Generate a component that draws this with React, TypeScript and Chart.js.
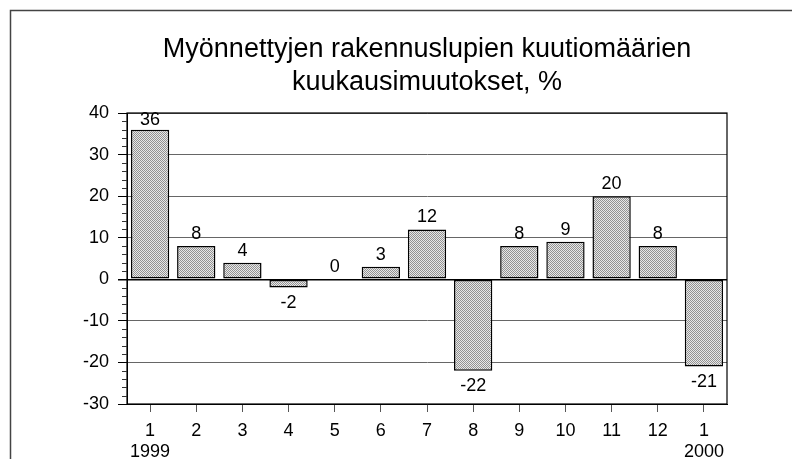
import React, { useEffect, useRef } from "react";
import { Chart, registerables } from "chart.js";

Chart.register(...registerables);

const categories: (string | string[])[] = [["1", "1999"], "2", "3", "4", "5", "6", "7", "8", "9", "10", "11", "12", ["1", "2000"]];
const values: number[] = [36, 8, 4, -2, 0, 3, 12, -22, 8, 9, 20, 8, -21];
const titleLines: string[] = ["Myönnettyjen rakennuslupien kuutiomäärien", "kuukausimuutokset, %"];
const yMin = -30;
const yMax = 40;
const yStep = 10;
const yMinorStep = 2;

const FONT = "'Liberation Sans', Arial, Helvetica, sans-serif";

function makePattern(): CanvasPattern | string {
  const c = document.createElement("canvas");
  c.width = 2;
  c.height = 2;
  const g = c.getContext("2d");
  if (!g) return "#c8c8c8";
  g.fillStyle = "#e8e8e8";
  g.fillRect(0, 0, 2, 2);
  g.fillStyle = "#929292";
  g.fillRect(0, 0, 1, 1);
  g.fillRect(1, 1, 1, 1);
  const p = g.createPattern(c, "repeat");
  return p || "#c8c8c8";
}

const framePlugin = {
  id: "frame",
  beforeDraw(chart: any) {
    const ctx = chart.ctx;
    const a = chart.chartArea;
    ctx.save();
    ctx.fillStyle = "#ffffff";
    ctx.fillRect(0, 0, chart.width, chart.height);
    ctx.strokeStyle = "#444444";
    ctx.lineWidth = 1.5;
    ctx.beginPath();
    ctx.moveTo(10.5, chart.height + 2);
    ctx.lineTo(10.5, 10.5);
    ctx.lineTo(chart.width + 2, 10.5);
    ctx.stroke();
    // title
    ctx.fillStyle = "#000000";
    ctx.font = `27px ${FONT}`;
    ctx.textAlign = "center";
    ctx.textBaseline = "alphabetic";
    const cx = (a.left + a.right) / 2;
    titleLines.forEach((t, i) => ctx.fillText(t, cx, 57 + i * 33));
    ctx.restore();
  },
  afterDraw(chart: any) {
    const ctx = chart.ctx;
    const a = chart.chartArea;
    const y = chart.scales.y;
    ctx.save();
    ctx.strokeStyle = "#000000";
    ctx.lineWidth = 1.2;
    ctx.strokeRect(a.left, a.top, a.right - a.left, a.bottom - a.top);
    // minor ticks
    ctx.lineWidth = 1;
    ctx.strokeStyle = "#333333";
    ctx.beginPath();
    for (let v = yMin; v <= yMax; v += yMinorStep) {
      if (v % yStep === 0) continue;
      const py = Math.round(y.getPixelForValue(v)) + 0.5;
      ctx.moveTo(a.left - 5, py);
      ctx.lineTo(a.left, py);
    }
    ctx.stroke();
    ctx.restore();
  },
};

const labelPlugin = {
  id: "valueLabels",
  afterDatasetsDraw(chart: any) {
    const ctx = chart.ctx;
    const meta = chart.getDatasetMeta(0);
    const a = chart.chartArea;
    ctx.save();
    ctx.font = `18px ${FONT}`;
    ctx.fillStyle = "#000000";
    ctx.textAlign = "center";
    meta.data.forEach((bar: any, i: number) => {
      const v = values[i];
      const txt = String(v);
      if (v >= 0) {
        ctx.textBaseline = "bottom";
        let yy = bar.y - 3;
        if (yy - 16 < a.top) yy = a.top + 16;
        ctx.fillText(txt, bar.x, yy);
      } else {
        ctx.textBaseline = "top";
        ctx.fillText(txt, bar.x, bar.y + 6);
      }
    });
    ctx.restore();
  },
};

export default function App() {
  const ref = useRef<HTMLCanvasElement | null>(null);
  useEffect(() => {
    if (!ref.current) return;
    const pattern = makePattern();
    const chart = new Chart(ref.current, {
      type: "bar",
      data: {
        labels: categories,
        datasets: [
          {
            data: values,
            backgroundColor: pattern as any,
            borderColor: "#000000",
            borderWidth: 1.5,
            borderSkipped: false,
            barPercentage: 0.83,
            categoryPercentage: 1,
          },
        ],
      },
      options: {
        animation: false,
        responsive: false,
        maintainAspectRatio: false,
        devicePixelRatio: 1,
        layout: { padding: { left: 0, right: 65, top: 113, bottom: 0 } },
        plugins: {
          legend: { display: false },
          tooltip: { enabled: false },
          title: { display: false },
        },
        scales: {
          x: {
            offset: true,
            grid: {
              offset: false,
              drawOnChartArea: false,
              drawTicks: true,
              tickLength: 8,
              tickColor: "#555555",
            },
            border: { display: true, color: "#000000", width: 1 },
            ticks: {
              color: "#000000",
              font: { family: FONT, size: 18, lineHeight: 1.2 },
              padding: 8,
              maxRotation: 0,
              autoSkip: false,
            },
            afterFit: (s: any) => {
              s.height = 55;
            },
          },
          y: {
            min: yMin,
            max: yMax,
            ticks: {
              stepSize: yStep,
              color: "#000000",
              font: { family: FONT, size: 18 },
              padding: 9,
            },
            grid: {
              color: (c: any) => (c.tick && c.tick.value === 0 ? "#000000" : "#666666"),
              lineWidth: (c: any) => (c.tick && c.tick.value === 0 ? 1.5 : 1),
              tickLength: 9,
              tickColor: "#000000",
            },
            border: { display: true, color: "#000000", width: 1 },
            afterFit: (s: any) => {
              s.width = 127;
            },
          },
        },
      },
      plugins: [framePlugin, labelPlugin],
    });
    return () => chart.destroy();
  }, []);
  return (
    <div style={{ position: "fixed", left: 0, top: 0, width: 792, height: 459 }}>
      <canvas ref={ref} width={792} height={459} style={{ display: "block", width: 792, height: 459 }} />
    </div>
  );
}
